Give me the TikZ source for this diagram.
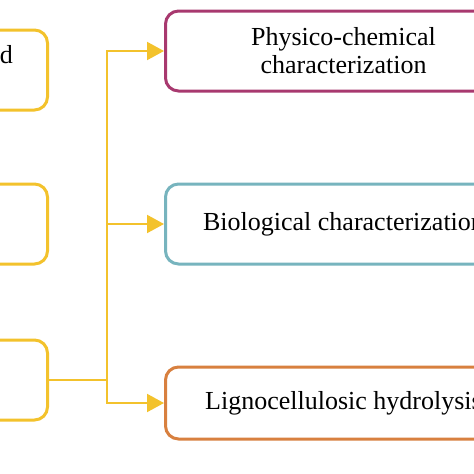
\documentclass[tikz,border=0pt]{standalone}
\usepackage{fontspec}
\setmainfont{Liberation Serif}
\usetikzlibrary{arrows.meta}
\definecolor{cyel}{HTML}{F3C22C}
\definecolor{cmag}{HTML}{A8396F}
\definecolor{cteal}{HTML}{77B4BE}
\definecolor{corg}{HTML}{D8803F}
\tikzset{
  box/.style={draw, line width=3pt, rounded corners=13pt, inner sep=0pt, align=center,
    font=\fontsize{26pt}{28pt}\selectfont},
  lbox/.style={box, draw=cyel, minimum width=250pt, minimum height=80pt, anchor=east},
  rbox/.style={box, minimum width=356pt, anchor=west},
  conn/.style={draw=cyel, line width=2pt},
  arr/.style={conn, -{Triangle[length=17pt,width=18pt]}}
}
\begin{document}
\begin{tikzpicture}[x=1pt,y=-1pt]
\useasboundingbox (0,0) rectangle (474,474);
\clip (0,0) rectangle (474,474);
\fill[white] (0,0) rectangle (474,474);
\node[lbox] (lb1) at (49,70) {};
\node[lbox] (lb2) at (49,224) {};
\node[lbox] (lb3) at (49,380) {};
\node[anchor=base east, inner sep=0pt, font=\fontsize{26pt}{28pt}\selectfont] (lt1) at (13,63) {d};
\node[rbox, draw=cmag, minimum height=80pt] (rb1) at (164,51) {Physico-chemical\\characterization};
\node[rbox, draw=cteal, minimum height=80pt] (rb2) at (164,224) {Biological characterization};
\node[rbox, draw=corg, minimum height=72pt] (rb3) at (164,403) {Lignocellulosic hydrolysis};
\coordinate (j) at (107,380);
\draw[conn] (lb3.east) -- (j);
\draw[arr] (j) |- (rb1.west);
\draw[arr] (j) |- (rb2.west);
\draw[arr] (j) |- (rb3.west);
\end{tikzpicture}
\end{document}
